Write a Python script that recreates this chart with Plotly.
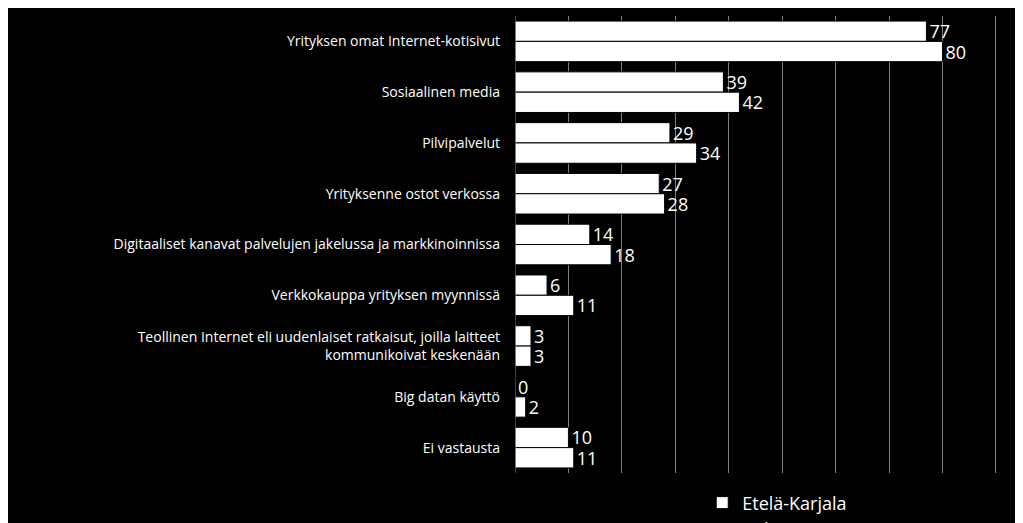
import plotly.graph_objects as go

categories = ["Yrityksen omat Internet-kotisivut", "Sosiaalinen media", "Pilvipalvelut",
              "Yrityksenne ostot verkossa",
              "Digitaaliset kanavat palvelujen jakelussa ja markkinoinnissa",
              "Verkkokauppa yrityksen myynnissä",
              "Teollinen Internet eli uudenlaiset ratkaisut, joilla laitteet<br>kommunikoivat keskenään",
              "Big datan käyttö", "Ei vastausta"]
etela_karjala = [77, 39, 29, 27, 14, 6, 3, 0, 10]
koko_maa = [80, 42, 34, 28, 18, 11, 3, 2, 11]

fig = go.Figure()
for name, vals in [("Etelä-Karjala", etela_karjala), ("Koko maa", koko_maa)]:
    fig.add_trace(go.Bar(y=categories, x=vals, name=name, orientation="h",
                         marker=dict(color="white", line=dict(color="black", width=1)),
                         text=vals, textposition="outside", cliponaxis=False,
                         constraintext="none",
                         textfont=dict(color="white", size=18)))
fig.update_layout(
    barmode="group", bargap=0.2, bargroupgap=0,
    width=1023, height=523, paper_bgcolor="black", plot_bgcolor="black",
    font=dict(family="Open Sans", color="white", size=14),
    margin=dict(l=507, r=10, t=8, b=58, autoexpand=False),
    xaxis=dict(range=[0, 94.7], dtick=10, showticklabels=False, showgrid=True,
               gridcolor="#808080", gridwidth=1, zeroline=False, automargin=False),
    yaxis=dict(autorange="reversed", ticks="", ticklabelstandoff=14, showline=False,
               automargin=False),
    legend=dict(orientation="h", x=0.37, y=-0.025, xanchor="left", yanchor="top",
                font=dict(size=18, color="white"), entrywidth=320, entrywidthmode="pixels"),
)
fig.add_shape(type="line", xref="x", yref="paper", x0=0, x1=0, y0=0, y1=1,
              line=dict(color="#808080", width=1))
fig.write_html("out.html")
